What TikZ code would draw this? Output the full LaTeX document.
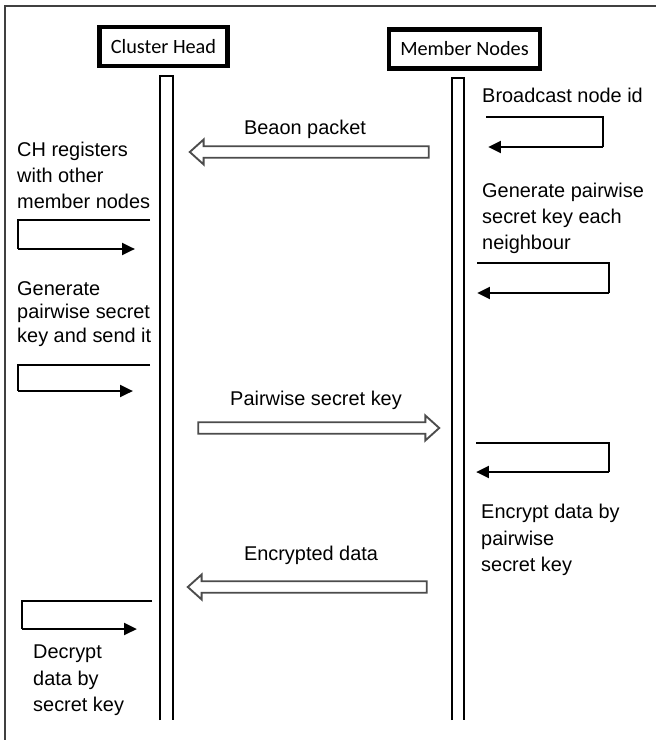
\documentclass[tikz,border=0pt]{standalone}
\usepackage{fontspec}
\setmainfont{Liberation Sans}
\newfontfamily\calibri{Carlito}
\usetikzlibrary{arrows.meta,shapes.arrows}

\tikzset{
  header/.style={draw, line width=3.8pt, inner sep=0pt, minimum height=1.17cm,
    font=\calibri\fontsize{17.3}{20}\selectfont},
  note/.style={anchor=north west, inner sep=0pt, align=left,
    font=\fontsize{17}{22}\selectfont},
  msg/.style={anchor=base, inner sep=0pt, font=\fontsize{17}{22}\selectfont},
  lifeline/.style={line width=1.1pt},
  loopline/.style={line width=0.9pt},
  loopret/.style={line width=2.4pt, -{Triangle[length=11pt,width=10pt]}},
  hollow/.style={single arrow, draw=black!70, line width=1.6pt, fill=white,
    inner xsep=0pt, inner ysep=0.145cm, outer sep=0pt,
    single arrow head extend=0.2cm, single arrow tip angle=84},
}

\begin{document}
\begin{tikzpicture}[x=0.03cm, y=-0.03cm]
\useasboundingbox (0,0) rectangle (656,740);

% frame
\draw[line width=1.3pt, black!75] (656,6) -- (5,6) -- (5,740);

% heads and lifelines
\node[header, minimum width=3.84cm] (ch) at (163.5,46.5) {Cluster Head};
\node[header, minimum width=4.53cm] (mn) at (464.5,49) {Member Nodes};
\draw[lifeline] (160,720) -- (160,76) -- (173,76) -- (173,720);
\draw[lifeline] (452,720) -- (452,78) -- (464,78) -- (464,720);

% cluster head side
\node[note] (chreg) at (17,142) {CH registers\\with other\\member nodes};
\coordinate (chA1) at (150,220);
\coordinate (chA2) at (18,249);
\coordinate (chA3) at (135,249);
\draw[loopline] (chA1) -| (chA2);
\draw[loopret] (chA2) -- (chA3);

\node[note, font=\fontsize{17}{20}\selectfont] (chgen) at (17,281) {Generate\\pairwise secret\\key and send it};
\coordinate (chB1) at (150,365);
\coordinate (chB2) at (18,391);
\coordinate (chB3) at (133,391);
\draw[loopline] (chB1) -| (chB2);
\draw[loopret] (chB2) -- (chB3);

\coordinate (chC1) at (152,601);
\coordinate (chC2) at (22,629);
\coordinate (chC3) at (137,629);
\draw[loopline] (chC1) -| (chC2);
\draw[loopret] (chC2) -- (chC3);
\node[note, font=\fontsize{17}{22.5}\selectfont] (chdec) at (33,645) {Decrypt\\data by\\secret key};

% member nodes side
\node[note] (mnbc) at (482,88) {Broadcast node id};
\coordinate (mnA1) at (486,117);
\coordinate (mnA2) at (603,147);
\coordinate (mnA3) at (488,147);
\draw[loopline] (mnA1) -| (mnA2);
\draw[loopret] (mnA2) -- (mnA3);

\node[note] (mngen) at (482,183) {Generate pairwise\\secret key each\\neighbour};
\coordinate (mnB1) at (477,263);
\coordinate (mnB2) at (609,293);
\coordinate (mnB3) at (477,293);
\draw[loopline] (mnB1) -| (mnB2);
\draw[loopret] (mnB2) -- (mnB3);

\coordinate (mnC1) at (476,443);
\coordinate (mnC2) at (609,472);
\coordinate (mnC3) at (476,472);
\draw[loopline] (mnC1) -| (mnC2);
\draw[loopret] (mnC2) -- (mnC3);
\node[note, font=\fontsize{17}{22.5}\selectfont] (mnenc) at (481,504) {Encrypt data by\\pairwise\\secret key};

% messages
\node[msg] (beaconlbl) at (305,135) {Beaon packet};
\node[hollow, minimum height=7.17cm, shape border rotate=180] (beacon) at (312.5,152) {};
\node[msg] (pairlbl) at (316,405) {Pairwise secret key};
\node[hollow, minimum height=7.23cm] (pair) at (315.5,428) {};
\node[msg] (enclbl) at (311,560) {Encrypted data};
\node[hollow, minimum height=7.17cm, shape border rotate=180] (encdata) at (310.5,587) {};
\end{tikzpicture}
\end{document}
